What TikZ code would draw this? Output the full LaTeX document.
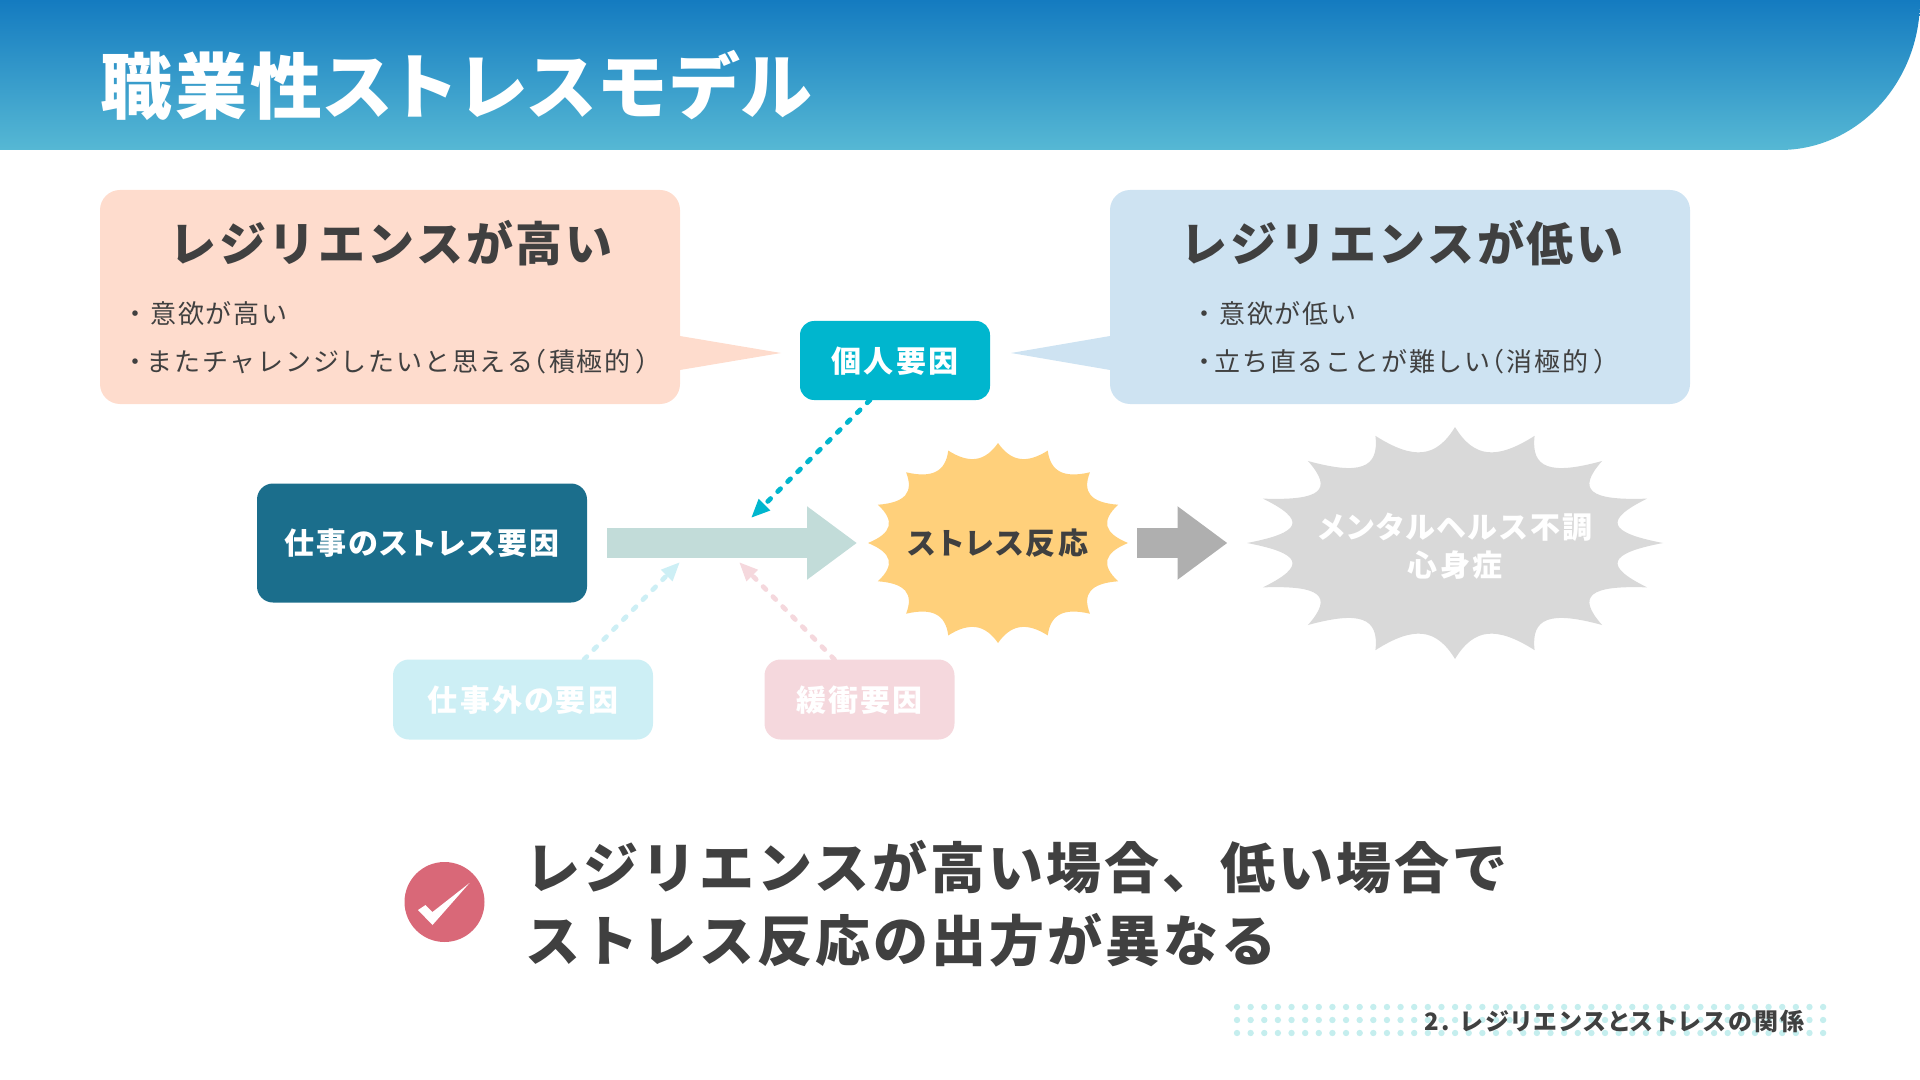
\documentclass[tikz,border=0pt]{standalone}
\usepackage{fontspec}
\setmainfont{Noto Sans CJK JP}
\newfontfamily\jpwide[LetterSpace=5.5]{Noto Sans CJK JP}
\newfontfamily\jplist[LetterSpace=7]{Noto Sans CJK JP}
\newfontfamily\jptitle[LetterSpace=4,RawFeature=+palt]{Noto Sans CJK JP}
\newfontfamily\jpmid[LetterSpace=7,RawFeature=+palt]{Noto Sans CJK JP}
\newfontfamily\jpfoot[LetterSpace=10,RawFeature=+palt]{Noto Sans CJK JP}
\usetikzlibrary{arrows.meta}

\definecolor{headtop}{HTML}{147BC0}
\definecolor{headbot}{HTML}{56B8D4}
\definecolor{peach}{HTML}{FEDCCD}
\definecolor{paleblue}{HTML}{CEE3F2}
\definecolor{tealbox}{HTML}{00B6CE}
\definecolor{darkbox}{HTML}{1B6E8C}
\definecolor{arrowpale}{HTML}{C2DCD9}
\definecolor{sunny}{HTML}{FFD07B}
\definecolor{cloudy}{HTML}{D9D9D9}
\definecolor{arrowgrey}{HTML}{AFAFAF}
\definecolor{palecyan}{HTML}{CDEFF5}
\definecolor{palepink}{HTML}{F5D8DD}
\definecolor{checkred}{HTML}{D96878}
\definecolor{dotcyan}{HTML}{C5EEEE}
\definecolor{ink}{HTML}{404040}

\tikzset{
  box/.style={inner sep=0pt,outer sep=0pt,rounded corners=#1},
  label/.style={inner sep=0pt,outer sep=0pt,text height=13pt,text depth=1.5pt,
    font=\jpmid\bfseries\fontsize{15}{18}\selectfont},
  heading/.style={inner sep=0pt,font=\jpwide\bfseries\fontsize{23.5}{27}\selectfont,text=ink},
  listline/.style={inner sep=0pt,anchor=west,font=\jplist\fontsize{13}{16}\selectfont,text=ink},
  bigline/.style={inner sep=0pt,anchor=west,font=\jpwide\bfseries\fontsize{27.5}{32}\selectfont,text=ink},
  bigarrow/.style={line width=15pt,-{Triangle[length=25pt,width=35pt]}},
  dotarrow/.style={line width=2.4pt,line cap=round,dash pattern=on 2pt off 5pt,
    -{Triangle[length=9.5pt,width=7.5pt]}}
}

% burst: centre x, centre y, radius x, radius y, depth, colour
\newcommand{\burst}[6]{
  \fill[#6] ({#1+#3},#2) \foreach \i in {0,...,15}{
    .. controls ({#1+#5*#3*cos(\i*22.5+7)},{#2+#5*#4*sin(\i*22.5+7)})
    and ({#1+#5*#3*cos((\i+1)*22.5-7)},{#2+#5*#4*sin((\i+1)*22.5-7)})
    .. ({#1+#3*cos((\i+1)*22.5)},{#2+#4*sin((\i+1)*22.5)})} -- cycle;
}

\begin{document}
\begin{tikzpicture}[x=0.5pt,y=-0.5pt]
  \useasboundingbox (0,0) rectangle (1920,1080);

  % header band
  \shade[top color=headtop,bottom color=headbot] (0,0) -- (1920,0)
    .. controls (1920,83) and (1857,150) .. (1780,150) -- (0,150) -- cycle;
  \node[anchor=west,inner sep=0pt,text=white,font=\jptitle\bfseries\fontsize{36}{40}\selectfont] (title) at (100,85) {職業性ストレスモデル};

  % left callout
  \fill[peach] (680,336) -- (781,353) -- (680,370) -- cycle;
  \node[box=10pt,fill=peach,minimum width=290pt,minimum height=107pt] (high) at (390,297) {};
  \node[heading] (highhead) at (391,243) {レジリエンスが高い};
  \node[listline] (highone) at (122,314) {・意欲が高い};
  \node[listline] (hightwo) at (122,362) {・\kern-1ptまたチャレンジしたいと思える{\jpmid（}\kern1.5pt積極的\kern3pt{\jpmid）}};

  % right callout
  \fill[paleblue] (1110,336) -- (1011,353) -- (1110,370) -- cycle;
  \node[box=10pt,fill=paleblue,minimum width=290pt,minimum height=107pt] (low) at (1400,297) {};
  \node[heading] (lowhead) at (1402,243) {レジリエンスが低い};
  \node[listline] (lowone) at (1191,314) {・意欲が低い};
  \node[listline] (lowtwo) at (1191,362) {・\kern-1.5pt立ち直ることが難しい{\jpmid（}\kern1.5pt消極的\kern3pt{\jpmid）}};

  % boxes
  \node[box=7pt,label,fill=tealbox,text=white,minimum width=95pt,minimum height=39.5pt] (personal) at (895,360.5) {個人要因};
  \node[box=8pt,label,fill=darkbox,text=white,minimum width=165pt,minimum height=59.5pt] (stressor) at (422,543) {仕事のストレス要因};
  \node[box=8pt,label,fill=palecyan,text=white,minimum width=130pt,minimum height=40pt] (outside) at (523,699.5) {仕事外の要因};
  \node[box=8pt,label,fill=palepink,text=white,minimum width=95pt,minimum height=40pt] (buffer) at (859.5,699.5) {緩衝要因};

  % bursts
  \burst{998}{543}{130}{100}{0.82}{sunny}
  \burst{1455}{543}{208}{116}{0.74}{cloudy}
  \node[label,text=ink,minimum width=130pt,minimum height=100pt] (reaction) at (998,543) {ストレス反応};
  \node[inner sep=0pt,outer sep=0pt,minimum width=208pt,minimum height=116pt] (mental) at (1455,543) {};
  \node[inner sep=0pt,text=white,align=center,font=\jpmid\bfseries\fontsize{15}{19}\selectfont] (mentaltext) at (1455,546) {メンタルヘルス不調\\心身症};

  % arrows
  \draw[bigarrow,arrowpale] ([xshift=10pt]stressor.east) -- ([xshift=-5.5pt]reaction.west);
  \draw[bigarrow,arrowgrey] ([xshift=4.5pt]reaction.east) -- ([xshift=-9.75pt]mental.west);
  \coordinate (pushtop) at (751,518);
  \coordinate (pushleft) at (680,562);
  \coordinate (pushright) at (739,562);
  \draw[dotarrow,tealbox] ([xshift=-12.5pt]personal.south) -- (pushtop);
  \draw[dotarrow,palecyan] ([xshift=30.5pt]outside.north) -- (pushleft);
  \draw[dotarrow,palepink] ([xshift=-12.5pt]buffer.north) -- (pushright);

  % conclusion
  \node[circle,fill=checkred,minimum size=40pt,inner sep=0pt] (check) at (444.5,902) {};
  \fill[white] (418,910) -- (425.5,905) -- (432.5,912) -- (469.5,883) -- (432.5,925) -- cycle;
  \node[bigline] (lineone) at (525,867) {レジリエンスが高い場合、低い場合で};
  \node[bigline] (linetwo) at (525,940) {ストレス反応の出方が異なる};

  % footer
  \foreach \i in {0,...,43}
    \foreach \y in {1007,1020,1033}
      \fill[dotcyan] ({1237+13.63*\i},\y) circle (1.6pt);
  \node[anchor=east,inner sep=0pt,text=ink,font=\jpfoot\bfseries\fontsize{12}{14}\selectfont] (footer) at (1805,1021) {2. レジリエンスとストレスの関係};
\end{tikzpicture}
\end{document}
